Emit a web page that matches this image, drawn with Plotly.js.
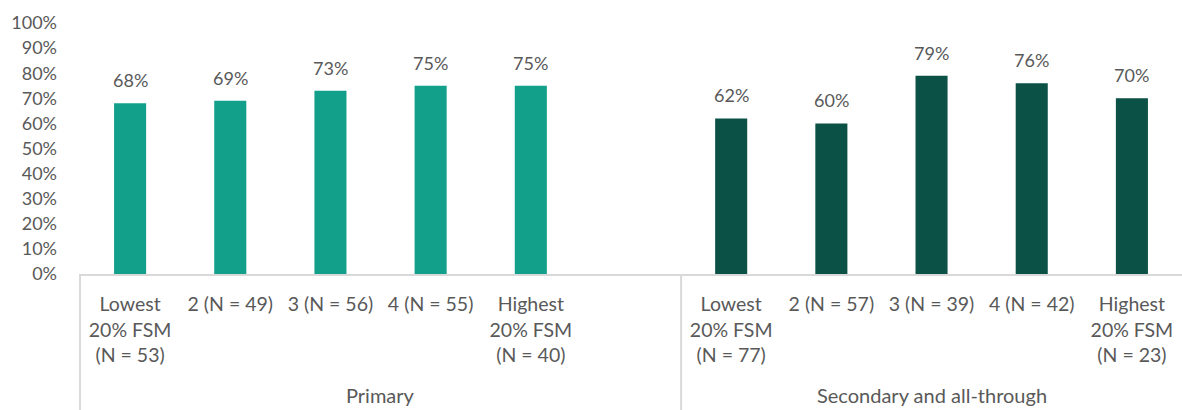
<!DOCTYPE html>
<html><head><meta charset="utf-8">
<script src="https://cdn.plot.ly/plotly-3.0.1.min.js"></script>
<style>html,body{margin:0;padding:0;background:#fff}#chart{width:1182px;height:410px}</style>
</head><body><div id="chart"></div>
<script>
const primaryCats = ["Lowest<br>20% FSM<br>(N = 53)", "2 (N = 49)", "3 (N = 56)", "4 (N = 55)", "Highest<br>20% FSM<br>(N = 40)"];
const primaryVals = [0.68, 0.69, 0.73, 0.75, 0.75];
const gapCat = [" "];
const secondaryCats = ["Lowest<br>20% FSM<br>(N = 77)", "2 (N = 57)", "3 (N = 39)", "4 (N = 42)", "Highest<br>20% FSM<br>(N = 23)"];
const secondaryVals = [0.62, 0.60, 0.79, 0.76, 0.70];
const groupLabels = ["Primary", "Secondary and all-through"];
const yTicks = [0,0.1,0.2,0.3,0.4,0.5,0.6,0.7,0.8,0.9,1.0];

const allCats = primaryCats.concat(gapCat, secondaryCats);
const n = allCats.length;
const FONT = "Lato, 'Open Sans', sans-serif";
const gray = "#595959";
const lineCol = "#d9d9d9";

const traces = [
  {type:"bar", x:primaryCats, y:primaryVals, marker:{color:"#12a08b"}, width:0.32, hoverinfo:"x+y"},
  {type:"bar", x:secondaryCats, y:secondaryVals, marker:{color:"#0b5145"}, width:0.32, hoverinfo:"x+y"}
];

const annotations = [];
function addLabels(cats, vals){
  cats.forEach((c,i)=>annotations.push({x:c, y:vals[i], xref:"x", yref:"y", text:Math.round(vals[i]*100)+"%",
    showarrow:false, xanchor:"center", yanchor:"bottom", yshift:10, font:{family:FONT, size:18, color:gray}}));
}
addLabels(primaryCats, primaryVals);
addLabels(secondaryCats, secondaryVals);
const gStart = [0, primaryCats.length + gapCat.length];
const gEnd = [primaryCats.length + gapCat.length, n];
groupLabels.forEach((g,i)=>annotations.push({xref:"paper", yref:"paper", x:(gStart[i]+gEnd[i])/2/n, y:-0.482,
  text:g, showarrow:false, xanchor:"center", yanchor:"middle", borderpad:0, font:{family:FONT, size:20, color:gray}}));

const shapes = [0, gEnd[0]/n].map(px=>({type:"line", xref:"paper", yref:"paper", x0:px, x1:px, y0:0, y1:-0.6,
  line:{color:lineCol, width:2}}));

const layout = {
  width:1182, height:410,
  margin:{l:80, r:0, t:23, b:136},
  paper_bgcolor:"#fff", plot_bgcolor:"#fff",
  showlegend:false,
  barmode:"group",
  font:{family:FONT, size:18, color:gray},
  xaxis:{type:"category", categoryorder:"array", categoryarray:allCats, range:[-0.5, n-0.5],
    showline:true, linecolor:lineCol, linewidth:2, ticks:"", showgrid:false, zeroline:false,
    tickangle:0, ticklabelstandoff:12, tickfont:{family:FONT, size:19.5, color:gray}, fixedrange:true},
  yaxis:{range:[0,1], tickvals:yTicks, tickformat:".0%", showgrid:false, zeroline:false, showline:false,
    ticks:"", ticklabelstandoff:22, tickfont:{family:FONT, size:18, color:gray}, fixedrange:true},
  annotations:annotations,
  shapes:shapes
};
Plotly.newPlot("chart", traces, layout, {displayModeBar:false, staticPlot:true});
</script></body></html>
